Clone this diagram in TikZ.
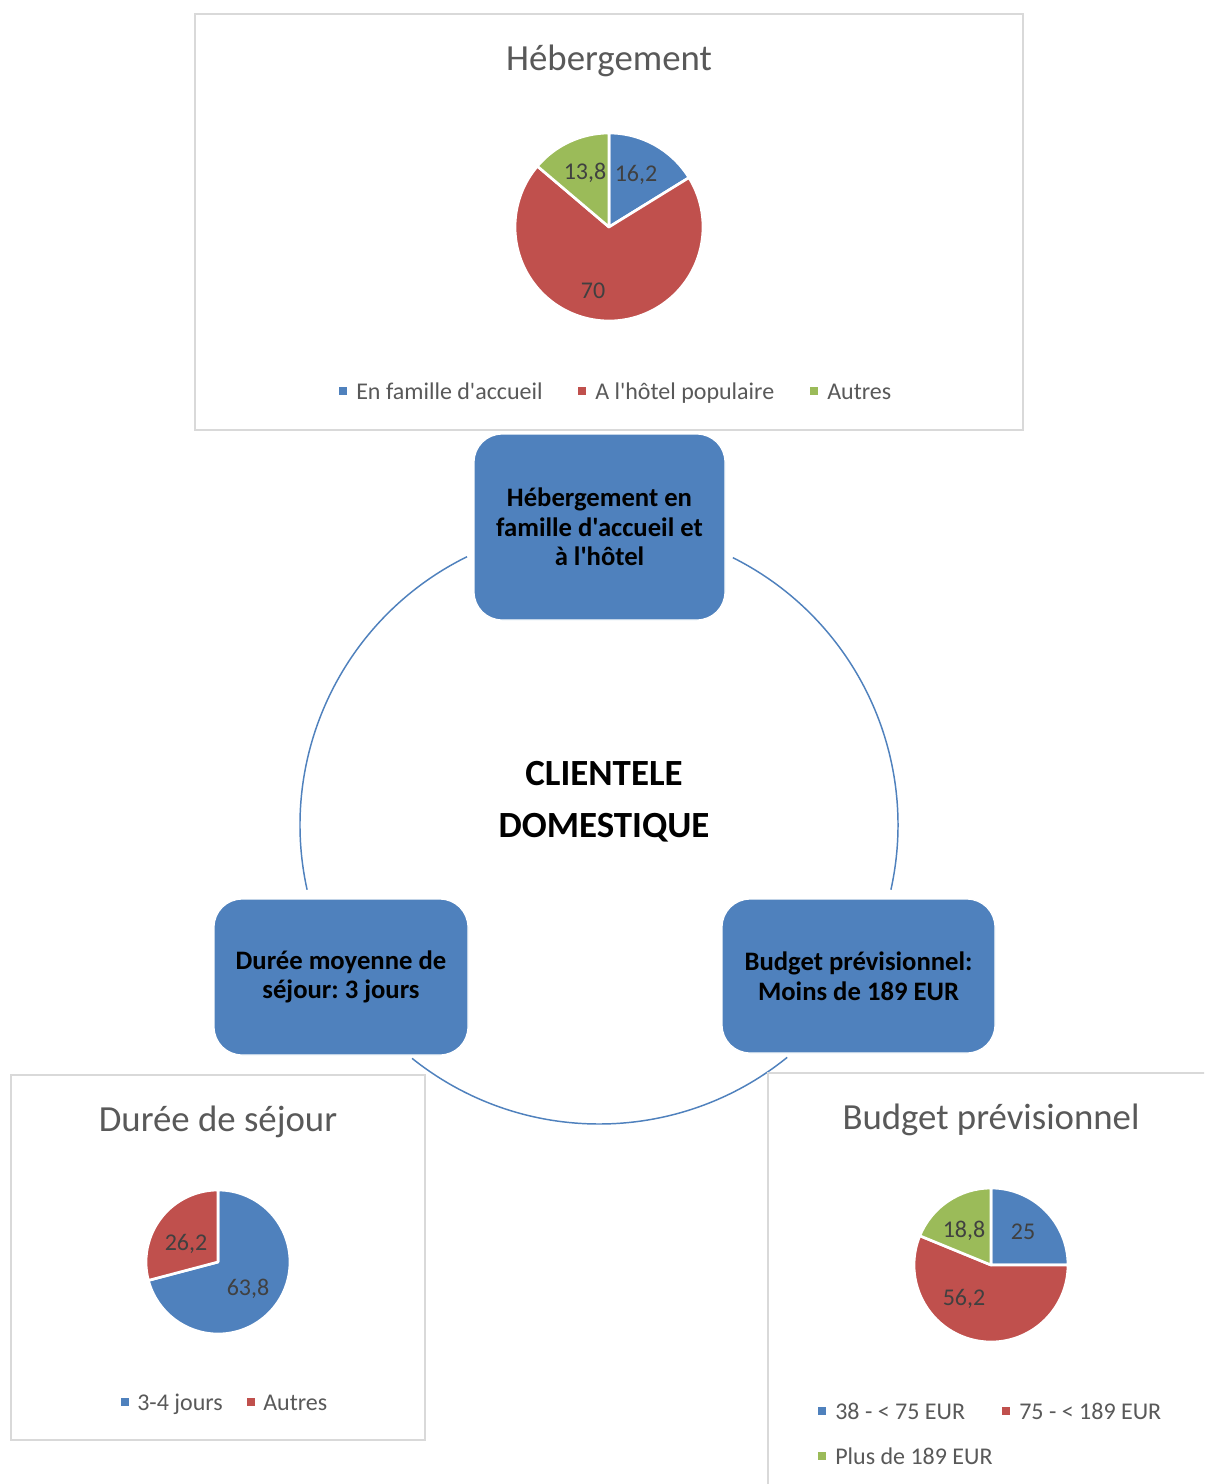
\documentclass[tikz,border=0pt]{standalone}
\usepackage{fontspec}
\setmainfont{Carlito}[Ligatures=TeXOff]
\frenchspacing
\definecolor{pblue}{HTML}{4F81BD}
\definecolor{pred}{HTML}{C0504D}
\definecolor{pgreen}{HTML}{9BBB59}
\definecolor{frameg}{HTML}{D9D9D9}
\definecolor{titleg}{HTML}{595959}
\definecolor{labelg}{HTML}{404040}
\begin{document}
\begin{tikzpicture}[x=0.75pt,y=0.75pt,
  chartframe/.style={draw=frameg,line width=1.5pt},
  charttitle/.style={text=titleg,font=\fontsize{27.6pt}{32pt}\selectfont,anchor=base,inner sep=0pt},
  datalabel/.style={text=labelg,font=\fontsize{18pt}{21pt}\selectfont,inner sep=0pt},
  legtxt/.style={text=titleg,font=\fontsize{18pt}{21pt}\selectfont,anchor=base west,inner sep=0pt},
  legsq/.style={minimum size=6pt,inner sep=0pt},
  slice/.style={draw=white,line width=2pt,line join=round},
  stepbox/.style={fill=pblue,draw=white,line width=1pt,rounded corners=21pt,inner sep=0pt,
     align=center,font=\bfseries\fontsize{20pt}{22.2pt}\selectfont,text=black},
  cyclearc/.style={draw=pblue,line width=1.1pt}
]
\path[use as bounding box] (0,0) rectangle (1204,-1484);
\clip (0,0) rectangle (1204,-1484);
\fill[white] (0,0) rectangle (1204,-1484);

% ---------- cycle arcs ----------
\coordinate (cc) at (599,-825);
\coordinate (a1s) at ([shift={(63.4:299)}]cc);
\coordinate (a2s) at ([shift={(-51:299)}]cc);
\coordinate (a3s) at ([shift={(192.5:299)}]cc);
\draw[cyclearc] (a1s) arc[start angle=63.4,end angle=-12.5,radius=299];
\draw[cyclearc] (a2s) arc[start angle=-51,end angle=-128.7,radius=299];
\draw[cyclearc] (a3s) arc[start angle=192.5,end angle=116.2,radius=299];

% ---------- chart 1 ----------
\draw[chartframe] (195,-14) rectangle (1023,-430);
\node[charttitle] (t1) at (609,-71) {Hébergement};
\coordinate (p1) at (609,-227);
\fill[pblue,slice] (p1) -- ++(90:94) arc[start angle=90,end angle=31.68,radius=94] -- cycle;
\fill[pred,slice] (p1) -- ++(31.68:94) arc[start angle=31.68,end angle=-220.32,radius=94] -- cycle;
\fill[pgreen,slice] (p1) -- ++(139.68:94) arc[start angle=139.68,end angle=90,radius=94] -- cycle;
\node[datalabel] (d11) at (636,-175) {16,2};
\node[datalabel] (d12) at (593,-291) {70};
\node[datalabel] (d13) at (585,-173) {13,8};
\node[legsq,fill=pblue] (l11s) at (343,-391) {};
\node[legtxt] (l11t) at (356,-399) {En famille d'accueil};
\node[legsq,fill=pred] (l12s) at (582,-391) {};
\node[legtxt] (l12t) at (595,-399) {A l'hôtel populaire};
\node[legsq,fill=pgreen] (l13s) at (814,-391) {};
\node[legtxt] (l13t) at (827,-399) {Autres};

% ---------- chart 2 ----------
\draw[chartframe] (11,-1075) rectangle (425,-1440);
\node[charttitle] (t2) at (218,-1131) {Durée de séjour};
\coordinate (p2) at (218,-1262);
\fill[pblue,slice] (p2) -- ++(90:72) arc[start angle=90,end angle=-165.2,radius=72] -- cycle;
\fill[pred,slice] (p2) -- ++(194.8:72) arc[start angle=194.8,end angle=90,radius=72] -- cycle;
\node[datalabel] (d21) at (248,-1289) {63,8};
\node[datalabel] (d22) at (186,-1244) {26,2};
\node[legsq,fill=pblue] (l21s) at (125,-1402) {};
\node[legtxt] (l21t) at (137,-1410) {3-4 jours};
\node[legsq,fill=pred] (l22s) at (251,-1402) {};
\node[legtxt] (l22t) at (263,-1410) {Autres};

% ---------- chart 3 ----------
\draw[chartframe] (768,-1073) rectangle (1220,-1500);
\node[charttitle] (t3) at (991,-1129) {Budget prévisionnel};
\coordinate (p3) at (991,-1265);
\fill[pblue,slice] (p3) -- ++(90:77) arc[start angle=90,end angle=0,radius=77] -- cycle;
\fill[pred,slice] (p3) -- ++(0:77) arc[start angle=0,end angle=-202.32,radius=77] -- cycle;
\fill[pgreen,slice] (p3) -- ++(157.68:77) arc[start angle=157.68,end angle=90,radius=77] -- cycle;
\node[datalabel] (d31) at (1023,-1232) {25};
\node[datalabel] (d32) at (964,-1299) {56,2};
\node[datalabel] (d33) at (964,-1231) {18,8};
\node[legsq,fill=pblue] (l31s) at (822,-1411) {};
\node[legtxt] (l31t) at (835,-1419) {38 - < 75 EUR};
\node[legsq,fill=pred] (l32s) at (1006,-1411) {};
\node[legtxt] (l32t) at (1019,-1419) {75 - < 189 EUR};
\node[legsq,fill=pgreen] (l33s) at (822,-1456) {};
\node[legtxt] (l33t) at (835,-1464) {Plus de 189 EUR};

% ---------- cycle nodes ----------
\node[stepbox,minimum width=188.25pt,minimum height=139.5pt] (top) at (599.5,-527)
  {Hébergement en\\famille d'accueil et\\à l'hôtel};
\node[stepbox,minimum width=190.5pt,minimum height=117pt] (left) at (341,-977)
  {Durée moyenne de\\séjour: 3 jours};
\node[stepbox,minimum width=204.75pt,minimum height=115.5pt] (right) at (858.5,-976)
  {Budget prévisionnel:\\Moins de 189 EUR};
\node[align=center,font=\bfseries\fontsize{27.7pt}{39pt}\selectfont,inner sep=0pt] (center) at (604,-802)
  {CLIENTELE\\DOMESTIQUE};
\end{tikzpicture}
\end{document}
